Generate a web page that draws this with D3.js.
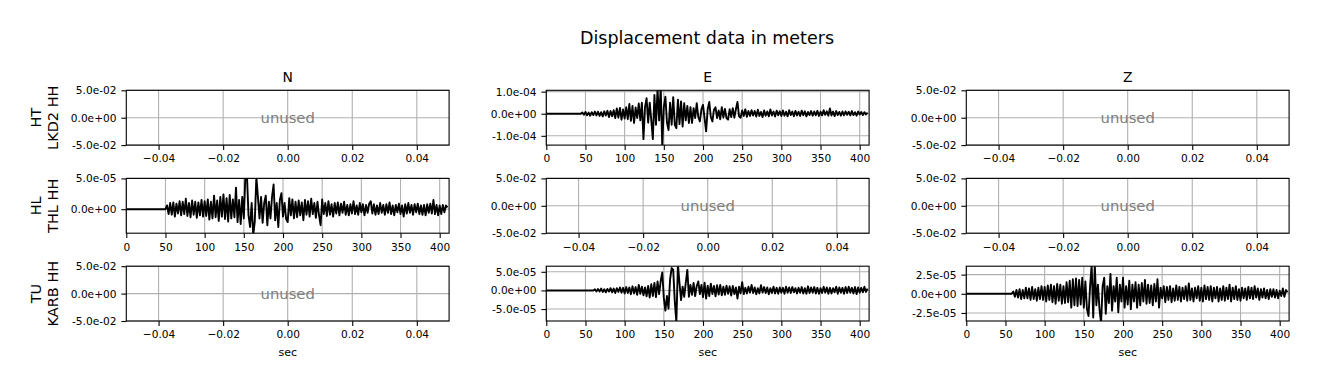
<!DOCTYPE html>
<html lang="en">
<head>
  <meta charset="UTF-8">
  <title>Displacement data in meters</title>
  <style>
    body {
      margin: 0;
      background: #fff;
      font-family: "DejaVu Sans", sans-serif;
    }
  </style>
  <script src="https://d3js.org/d3.v7.min.js"></script>
</head>
<body>
  <div id="chart"></div>

  <script>
    // Station rows and component columns
    const components = ["N", "E", "Z"];
    const networks = ["HT", "HL", "TU"];
    const stationNames = ["LKD2 HH", "THL HH", "KARB HH"];

    // Waveforms, in units of 1e-5 m, one sample every 2 s
    const sampleStep = 2;
    const unitScale = 1e-5;

    // HT LKD2 HH, E component
    const lkd2EStart = 46;
    const lkd2EValues = [
      0.6, -0.5, 0.8, -0.7, 0.5, -0.9, 0.7, -0.6, 1.0, -0.8,
      0.9, -1.0, 0.7, -1.2, 1.1, -0.8, 1.3, -1.5, 1.2, -1.1,
      1.6, -2.0, 2.4, -1.8, 2.6, -2.7, 1.9, -2.2, 3.0, -2.5,
      4.4, -3.2, 3.5, -4.2, 2.8, -2.0, 4.6, -3.0, 5.0, -11.5,
      3.0, 7.0, -4.0, 5.0, -3.0, -11.5, 8.5, -5.0, 11.5, -3.0,
      12.0, -14.5, 3.0, 7.7, -4.0, -7.4, 5.0, -5.0, 7.5, -5.0,
      -6.5, 6.4, -4.7, 5.6, -5.8, 4.8, -3.0, 3.5, -4.2, 3.0,
      -4.2, 2.5, -2.0, 4.8, -1.5, -3.5, 2.0, 4.0, -2.0, -8.0,
      2.0, 5.3, -1.5, -3.5, 1.8, 2.9, -2.0, 1.5, -2.5, 3.0,
      -1.8, 2.2, -2.0, -2.7, 2.0, -1.5, 2.5, -1.8, 2.0, 5.3,
      -1.2, -1.8, 1.5, -1.0, 2.0, -1.4, 1.2, -1.0, 1.6, -0.8,
      1.2, -1.3, 1.8, -1.0, 0.8, -1.5, 1.5, -0.9, 1.0, -1.2,
      1.9, -0.8, 1.0, -1.3, 1.4, -0.7, 1.1, -1.0, 1.5, -0.9,
      0.9, -1.2, 1.6, -0.6, 1.0, -1.1, 1.3, -0.8, 0.9, -1.0,
      1.4, -0.7, 1.1, -1.2, 0.8, -0.6, 1.2, -0.9, 1.0, -0.7,
      1.3, -1.0, 0.9, -0.8, 1.6, -0.5, 1.1, -0.9, 2.4, -0.8,
      1.0, -1.1, 1.2, -0.6, 0.8, -0.9, 1.0, -0.7, 1.1, -0.5,
      0.9, -0.8, 1.2, -0.6, 0.7, -0.9, 1.0, -0.4, 0.8, -0.6,
      0.7, -0.3, 0.5
    ];

    // HL THL HH, N component
    const thlNStart = 52;
    const thlNValues = [
      0.6, -0.8, 1.0, -0.9, 1.1, -1.2, 0.9, -0.7, 1.3, -1.0,
      1.2, -0.8, 1.7, -1.1, 1.0, -1.3, 1.4, -0.9, 1.2, -1.4,
      1.1, -1.0, 1.5, -1.2, 1.3, -1.1, 1.6, -1.7, 1.2, -1.5,
      2.2, -1.3, 1.4, -1.9, 2.0, -1.2, 2.4, -1.6, 1.8, -2.0,
      2.3, -1.5, 1.6, -1.3, 3.5, -2.1, 1.5, -2.4, 2.0, -1.5,
      5.5, 5.5, -1.0, -2.9, 1.0, -4.2, -2.0, 5.2, 2.0, -1.5,
      2.0, -2.2, 1.0, 2.2, -2.6, 1.2, -1.5, 2.0, 4.0, -1.8,
      1.0, -2.9, 1.5, 2.6, -1.2, 1.0, -1.6, -2.1, 1.8, -1.0,
      1.6, -1.5, 1.2, -1.3, 1.4, -1.0, 1.1, -1.8, 1.5, -0.9,
      1.3, -1.2, 1.7, -0.8, 1.0, -1.4, 1.2, -1.0, -2.6, 1.6,
      -0.8, 1.0, -1.1, 1.3, -0.9, 0.8, -1.2, 1.0, -0.7, 1.1,
      -1.0, 0.9, -0.6, 1.2, -0.9, 0.7, -1.0, 0.8, -0.7, 1.3,
      -0.8, 0.6, -0.9, 1.0, -0.5, 0.8, -1.0, 0.7, -0.6, 0.9,
      1.3, -0.7, 0.8, -0.9, 0.6, -0.8, 1.0, -0.6, 0.7, -0.9,
      0.8, -0.6, 1.1, -0.8, 0.6, -1.0, 0.7, -0.5, 0.9, -0.8,
      0.6, -1.2, 0.8, -0.7, 1.0, -0.6, 0.7, -0.9, 0.8, -0.5,
      0.9, -0.8, 0.6, -0.9, 0.7, -1.0, 0.8, -0.6, 0.9, -0.7,
      1.5, -0.8, 0.7, -1.0, 0.6, -0.8, 0.7, -0.5, 0.6, 0.3
    ];

    // TU KARB HH, E component
    const karbEStart = 62;
    const karbEValues = [
      0.3, -0.3, 0.4, -0.3, 0.5, -0.4, 0.3, -0.5, 0.4, -0.3,
      0.6, -0.5, 0.5, -0.7, 0.6, -0.4, 0.8, -0.6, 0.7, -0.8,
      0.9, -0.7, 0.8, -1.0, 1.1, -0.8, 0.9, -1.2, 1.5, -0.9,
      1.0, -1.3, 0.8, -1.6, 1.2, -1.9, 1.7, -1.5, 2.0, -1.8,
      2.4, -1.0, 2.5, 4.8, -2.0, -5.4, -1.5, -4.9, 3.0, 6.0,
      5.5, -3.0, -8.5, 7.0, 2.0, -2.6, 1.0, -1.7, 2.0, 5.5,
      -1.7, 1.5, -1.2, 2.0, -1.5, 1.2, 2.4, -1.0, 1.5, -1.8,
      2.1, -2.2, 1.3, -1.5, 1.8, -1.0, 1.2, -1.6, 1.4, -1.1,
      1.5, -1.3, 1.0, -1.2, 1.3, -0.9, 1.1, -1.4, 1.2, -1.0,
      0.8, -2.2, 1.0, -0.8, 2.2, -1.0, 0.7, -0.8, 1.0, -0.6,
      1.5, -0.7, 0.8, -1.0, 0.6, -0.8, 1.4, -0.6, 0.9, -0.7,
      0.8, -1.0, 0.6, -0.7, 1.0, -0.8, 0.7, -0.9, 0.8, -0.6,
      0.7, -0.9, 1.0, -0.6, 0.8, -0.7, 0.9, -0.5, 0.6, -0.8,
      0.7, -0.6, 0.9, -0.8, 0.6, -0.9, 1.1, -0.7, 0.8, -0.6,
      0.9, -0.8, 0.7, -0.9, 0.6, -0.7, 1.0, -0.6, 0.8, -0.9,
      0.7, -0.8, 0.6, -0.5, 1.0, -0.9, 0.8, -0.6, 0.7, -0.9,
      0.9, -0.7, 1.0, -0.6, 0.7, -0.8, 0.9, -1.0, 0.8, -0.6,
      0.7, -0.5, 1.0, -0.4, 0.5
    ];

    // TU KARB HH, Z component
    const karbZStart = 60;
    const karbZValues = [
      0.3, -0.4, 0.5, -0.5, 0.6, -0.7, 0.5, -0.6, 0.8, -0.6,
      0.7, -0.8, 0.9, -0.7, 0.6, -0.9, 0.8, -0.7, 1.0, -0.8,
      0.9, -1.0, 1.1, -0.8, 1.2, -1.1, 1.0, -1.3, 1.3, -0.9,
      1.2, -1.3, 1.0, -1.2, 1.5, -1.1, 1.7, -1.8, 1.9, -1.5,
      2.0, -1.6, 1.8, -1.4, 2.1, -1.8, 1.6, -2.0, -2.9, 1.0,
      3.8, -3.1, 3.8, -1.5, 1.2, -2.0, -3.8, 1.0, 2.1, -2.6,
      1.0, -1.2, 2.6, -2.2, 1.0, -1.0, 2.1, -2.4, 1.2, -1.0,
      2.1, -1.8, 1.0, -1.4, 1.7, -2.0, 1.2, -1.0, 1.5, -1.8,
      1.2, -1.5, 1.4, -1.0, 1.8, -1.3, 1.2, -1.2, 1.1, -1.5,
      1.3, -1.0, 1.9, -1.8, 0.8, -0.6, 1.0, -1.1, 0.9, -0.8,
      1.0, -1.1, 0.7, -0.9, 1.1, -0.8, 0.9, -1.0, 0.8, -0.7,
      1.0, -0.9, 1.35, -0.8, 0.7, -1.0, 0.8, -0.6, 1.0, -0.9,
      0.8, -1.0, 1.1, -0.7, 0.9, -0.8, 1.0, -1.0, 0.8, -0.6,
      0.9, -1.0, 0.7, -0.8, 1.0, -0.9, 0.8, -0.7, 1.2, -1.0,
      0.8, -0.7, 1.0, -0.8, 0.6, -0.9, 0.8, -0.6, 0.7, -0.8,
      0.9, -0.6, 0.8, -0.7, 1.0, -0.5, 0.7, -0.8, 0.6, -0.5,
      0.7, -0.6, 0.5, -0.7, 0.6, -0.4, 0.6, -0.5, 0.5, -0.6,
      0.4, -0.3, 0.7, -0.4, 0.5, 0.2
    ];

    // Axis limits and ticks
    const traceXDomain = [0, 412];
    const traceXTicks = [0, 50, 100, 150, 200, 250, 300, 350, 400];
    const unusedXDomain = [-0.05, 0.05];
    const unusedXTicks = [-0.04, -0.02, 0, 0.02, 0.04];
    const unusedYDomain = [-0.05, 0.05];
    const unusedYTicks = [-0.05, 0, 0.05];

    const traces = [
      { row: 0, col: 1, start: lkd2EStart, values: lkd2EValues, yDomain: [-1.42e-4, 1.06e-4], yTicks: [-1e-4, 0, 1e-4] },
      { row: 1, col: 0, start: thlNStart, values: thlNValues, yDomain: [-3.9e-5, 5e-5], yTicks: [0, 5e-5] },
      { row: 2, col: 1, start: karbEStart, values: karbEValues, yDomain: [-8.2e-5, 6.5e-5], yTicks: [-5e-5, 0, 5e-5] },
      { row: 2, col: 2, start: karbZStart, values: karbZValues, yDomain: [-3.55e-5, 3.6e-5], yTicks: [-2.5e-5, 0, 2.5e-5] }
    ];

    // Layout
    const width = 1320, height = 389;
    const colLeft = [126.3, 546.3, 966.3];
    const rowTop = [90.3, 178.4, 266.2];
    const panelW = 322.8, panelH = 54.8;

    const svg = d3.select("#chart").append("svg")
      .attr("width", width)
      .attr("height", height)
      .style("display", "block");

    svg.append("text")
      .attr("x", 707)
      .attr("y", 44)
      .attr("text-anchor", "middle")
      .attr("font-size", "17.5px")
      .text("Displacement data in meters");

    // matplotlib style "%.1e" labels
    function sciFormat(v) {
      const s = v.toExponential(1);
      const parts = s.split("e");
      let exp = parts[1];
      const sign = exp[0];
      let digits = exp.slice(1);
      if (digits.length < 2) digits = "0" + digits;
      return parts[0] + "e" + sign + digits;
    }

    const minusFormat = d => d3.format(".2f")(d).replace("-", "\u2212");

    function drawPanel(row, col, trace) {
      const g = svg.append("g")
        .attr("transform", `translate(${colLeft[col]},${rowTop[row]})`);

      const x = d3.scaleLinear()
        .domain(trace ? traceXDomain : unusedXDomain)
        .range([0, panelW]);
      const y = d3.scaleLinear()
        .domain(trace ? trace.yDomain : unusedYDomain)
        .range([panelH, 0]);

      const xTicks = trace ? traceXTicks : unusedXTicks;
      const yTicks = trace ? trace.yTicks : unusedYTicks;

      // grid
      g.selectAll(".gx").data(xTicks).enter().append("line")
        .attr("x1", d => x(d)).attr("x2", d => x(d))
        .attr("y1", 0).attr("y2", panelH)
        .attr("stroke", "#b0b0b0").attr("stroke-width", 1.1);
      g.selectAll(".gy").data(yTicks).enter().append("line")
        .attr("x1", 0).attr("x2", panelW)
        .attr("y1", d => y(d)).attr("y2", d => y(d))
        .attr("stroke", "#b0b0b0").attr("stroke-width", 1.1);

      if (trace) {
        const clipId = `clip-${row}-${col}`;
        g.append("clipPath").attr("id", clipId)
          .append("rect").attr("width", panelW).attr("height", panelH);

        const pts = [[0, 0], [trace.start - sampleStep, 0]];
        trace.values.forEach((v, i) => pts.push([trace.start + i * sampleStep, v * unitScale]));

        const line = d3.line()
          .x(d => x(d[0]))
          .y(d => y(d[1]));

        g.append("path")
          .datum(pts)
          .attr("clip-path", `url(#${clipId})`)
          .attr("fill", "none")
          .attr("stroke", "#000")
          .attr("stroke-width", 1.9)
          .attr("stroke-linejoin", "round")
          .attr("d", line);
      } else {
        g.append("text")
          .attr("x", panelW / 2)
          .attr("y", panelH / 2 + 5)
          .attr("text-anchor", "middle")
          .attr("font-size", "14.8px")
          .attr("fill", "#808080")
          .text("unused");
      }

      // axes
      const xAxis = d3.axisBottom(x).tickValues(xTicks).tickSize(4.9).tickPadding(4.9)
        .tickFormat(trace ? d3.format("d") : minusFormat);
      const yAxis = d3.axisLeft(y).tickValues(yTicks).tickSize(4.9).tickPadding(4.9)
        .tickFormat(sciFormat);

      const gx = g.append("g").attr("transform", `translate(0,${panelH})`).call(xAxis);
      const gy = g.append("g").call(yAxis);
      [gx, gy].forEach(a => {
        a.select(".domain").remove();
        a.selectAll("line").attr("stroke", "#000").attr("stroke-width", 1.1);
        a.selectAll("text").attr("font-family", "DejaVu Sans").attr("font-size", "10.6px").attr("fill", "#000");
      });

      g.append("rect")
        .attr("width", panelW).attr("height", panelH)
        .attr("fill", "none").attr("stroke", "#000").attr("stroke-width", 1.1);

      if (row === 0) {
        g.append("text")
          .attr("x", panelW / 2).attr("y", -8.5)
          .attr("text-anchor", "middle")
          .attr("font-size", "13.9px")
          .text(components[col]);
      }
      if (row === 2) {
        g.append("text")
          .attr("x", panelW / 2).attr("y", panelH + 35)
          .attr("text-anchor", "middle")
          .attr("font-size", "11px")
          .text("sec");
      }
    }

    for (let r = 0; r < 3; r++) {
      for (let c = 0; c < 3; c++) {
        const tr = traces.find(t => t.row === r && t.col === c);
        drawPanel(r, c, tr);
      }
      // station label, two lines rotated
      const cy = rowTop[r] + panelH / 2;
      const lab = svg.append("text")
        .attr("transform", `translate(0,${cy}) rotate(-90)`)
        .attr("text-anchor", "middle")
        .attr("font-size", "14.5px");
      lab.append("tspan").attr("x", 0).attr("y", 41).text(networks[r]);
      lab.append("tspan").attr("x", 0).attr("y", 57.5).text(stationNames[r]);
    }
  </script>
</body>
</html>
